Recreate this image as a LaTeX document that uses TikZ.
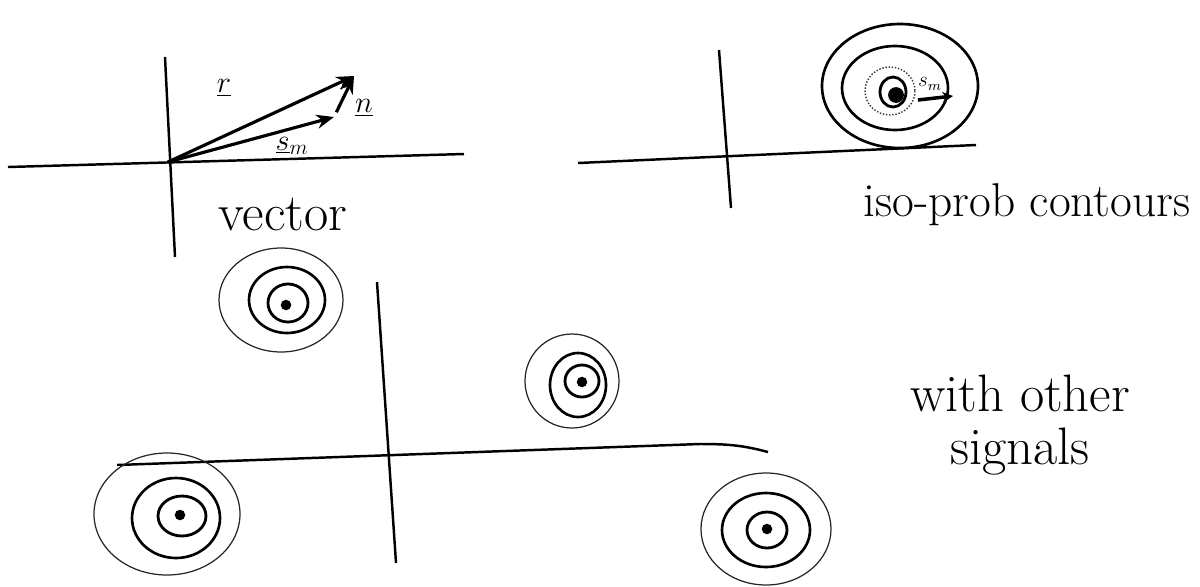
\documentclass[tikz,border=0pt]{standalone}
\usetikzlibrary{arrows.meta}

\begin{document}
\begin{tikzpicture}[x=0.02cm, y=-0.02cm,
  axis/.style={line width=1.4pt, black},
  vec/.style={line width=1.8pt, -{Stealth[length=10pt, width=8pt]}},
  outring/.style={line width=0.7pt, black!85},
  midring/.style={line width=1.5pt},
  inring/.style={line width=1.6pt},
  faintring/.style={line width=0.8pt, densely dotted, black!80},
  centre/.style={circle, fill=black, inner sep=0pt, minimum size=6pt},
  note/.style={font=\fontsize{30}{30}\selectfont},
  vlabel/.style={font=\LARGE}
]
\useasboundingbox (0,0) rectangle (1200,586);

\coordinate (ax1w) at (8,167);
\coordinate (ax1e) at (464,154);
\coordinate (ax1n) at (165,57);
\coordinate (ax1s) at (175,257);
\coordinate (orig) at (168,162);
\coordinate (rtip) at (354,76);
\coordinate (stip) at (334,117);
\draw[axis] (ax1w) -- (ax1e);
\draw[axis] (ax1n) -- (ax1s);
\draw[vec] (orig) -- (rtip);
\draw[vec] (orig) -- (stip);
\draw[vec, shorten <=3pt] (stip) -- (rtip);
\node (rlab) [vlabel] at (224,88) {$\underline{r}$};
\node (nlab) [vlabel] at (364,108) {$\underline{n}$};
\node (slab) [vlabel] at (292,146) {$\underline{s}_m$};
\node (vecnote) [note] at (283,214) {vector};

\coordinate (ax2w) at (578,163);
\coordinate (ax2e) at (976,145);
\coordinate (ax2n) at (719,50);
\coordinate (ax2s) at (731,208);
\draw[axis] (ax2w) -- (ax2e);
\draw[axis] (ax2n) -- (ax2s);
\draw[midring] (900,86) ellipse [x radius=78, y radius=62];
\draw[midring] (895,88) ellipse [x radius=53, y radius=42];
\draw[faintring] (890,91) ellipse [x radius=25, y radius=24];
\draw[inring] (893,92) ellipse [x radius=13, y radius=15];
\node (dot0) [centre, minimum height=9pt] at (896,95) {};
\coordinate (sfoot) at (918,100);
\coordinate (shead) at (953,96);
\draw[line width=2pt, -{Stealth[length=6pt, width=6pt]}] (sfoot) -- (shead);
\node (slab2) [font=\large] at (930,84) {$s_m$};
\node (isonote) [note, font=\fontsize{27}{27}\selectfont] at (1027,205) {iso-prob contours};

\coordinate (ax3w) at (117,465);
\coordinate (ax3m) at (700,444);
\coordinate (ax3e) at (768,452);
\coordinate (ax3n) at (377,282);
\coordinate (ax3s) at (396,563);
\draw[axis] (ax3w) -- (ax3m) to[out=0, in=165] (ax3e);
\draw[axis] (ax3n) -- (ax3s);

\draw[outring] (281,300) ellipse [x radius=62, y radius=52];
\draw[midring] (287,300) ellipse [x radius=38, y radius=33];
\draw[inring] (288,303) ellipse [x radius=20, y radius=19];
\node (dot1) [centre] at (286,305) {};

\draw[outring] (572,381) ellipse [x radius=47, y radius=47];
\draw[midring] (578,385) ellipse [x radius=28, y radius=32];
\draw[inring] (582,381) ellipse [x radius=17, y radius=16];
\node (dot2) [centre] at (582,382) {};

\draw[outring] (167,514) ellipse [x radius=73, y radius=61];
\draw[midring] (176,518) ellipse [x radius=44, y radius=40];
\draw[inring] (182,516) ellipse [x radius=24, y radius=20];
\node (dot3) [centre] at (180,515) {};

\draw[outring] (766,529) ellipse [x radius=65, y radius=56];
\draw[midring] (766,530) ellipse [x radius=44, y radius=37];
\draw[inring] (767,530) ellipse [x radius=20, y radius=18];
\node (dot4) [centre] at (767,529) {};

\node (othernote) [note, align=center] at (1020,425) {with other\\signals};

\end{tikzpicture}
\end{document}
